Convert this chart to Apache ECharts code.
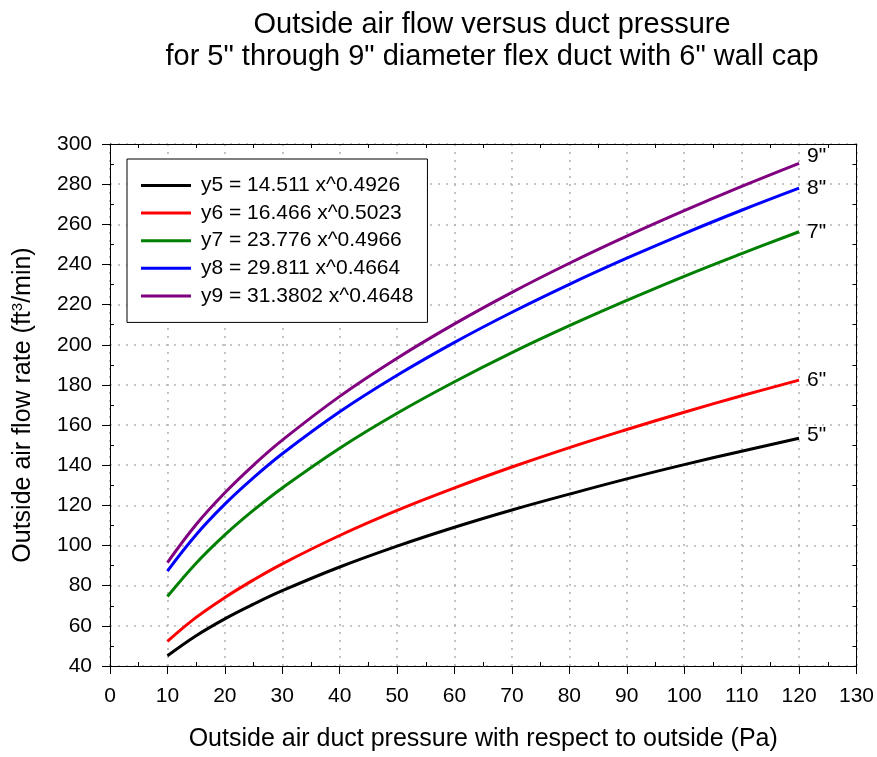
<!DOCTYPE html>
<html><head><meta charset="utf-8">
<script src="https://cdn.jsdelivr.net/npm/echarts@6/dist/echarts.min.js"></script>
<style>html,body{margin:0;padding:0;background:#fff}#c{width:877px;height:757px}</style>
</head><body><div id="c"></div>
<script>
const xs = [10, 15, 20, 25, 30, 40, 50, 60, 70, 80, 90, 100, 110, 120];
const y5 = [45.1, 55.1, 63.5, 70.8, 77.5, 89.3, 99.7, 109.1, 117.7, 125.6, 133.2, 140.3, 147.0, 153.4];
const y6 = [52.3, 64.2, 74.1, 82.9, 90.9, 105.0, 117.5, 128.7, 139.1, 148.8, 157.8, 166.4, 174.6, 182.4];
const y7 = [74.6, 91.2, 105.3, 117.6, 128.7, 148.5, 165.9, 181.6, 196.1, 209.5, 222.1, 234.1, 245.4, 256.3];
const y8 = [87.3, 105.4, 120.6, 133.8, 145.7, 166.6, 184.8, 201.2, 216.2, 230.1, 243.1, 255.4, 267.0, 278.0];
const y9 = [91.5, 110.5, 126.3, 140.1, 152.5, 174.3, 193.3, 210.4, 226.1, 240.6, 254.1, 266.8, 278.9, 290.4];
const seriesNames = ['y5 = 14.511 x^0.4926', 'y6 = 16.466 x^0.5023', 'y7 = 23.776 x^0.4966', 'y8 = 29.811 x^0.4664', 'y9 = 31.3802 x^0.4648'];
const endLabels = ['5"', '6"', '7"', '8"', '9"'];
const colors = ['#000000', '#ff0000', '#008000', '#0000ff', '#800080'];
const allY = [y5, y6, y7, y8, y9];
const endLabelDy = [-3, 0, 0, 0, -7];

const FONT = '"Liberation Sans", Arial, sans-serif';
const chart = echarts.init(document.getElementById('c'));
const dotted = {show: true, lineStyle: {color: '#b4b4b4', type: [2, 6], width: 1.6}};
const baseX = {type: 'value', min: 0, max: 130, interval: 10};
const baseY = {type: 'value', min: 40, max: 300, interval: 20};
const blackLine = {show: true, onZero: false, lineStyle: {color: '#000', width: 1}};
const minorOnly = {
  axisTick: {show: false, inside: true},
  minorTick: {show: true, splitNumber: 2, length: 4, lineStyle: {color: '#000'}},
  axisLabel: {show: false},
  splitLine: {show: false}
};

chart.setOption({
  animation: false,
  backgroundColor: '#fff',
  title: {
    text: 'Outside air flow versus duct pressure\nfor 5" through 9" diameter flex duct with 6" wall cap',
    left: 487, top: 4, textAlign: 'center',
    textStyle: {fontFamily: FONT, fontSize: 29, fontWeight: 'normal', color: '#000', lineHeight: 32}
  },
  legend: {
    orient: 'vertical', left: 127, top: 159,
    padding: [16, 14, 16, 14],
    itemWidth: 50, itemHeight: 3, itemGap: 6.6,
    icon: 'rect',
    borderColor: '#000', borderWidth: 1, backgroundColor: '#fff',
    textStyle: {fontFamily: FONT, fontSize: 21, lineHeight: 20, color: '#000', padding: [0, 0, 0, 5]},
    data: seriesNames
  },
  grid: {left: 110, right: 16, top: 144, bottom: 88},
  xAxis: [
    Object.assign({}, baseX, {
      position: 'bottom',
      name: 'Outside air duct pressure with respect to outside (Pa)',
      nameLocation: 'middle', nameGap: 61,
      nameTextStyle: {fontFamily: FONT, fontSize: 25, color: '#000'},
      axisLine: blackLine,
      axisTick: {show: true, length: 8, lineStyle: {color: '#000'}},
      minorTick: {show: false},
      axisLabel: {fontFamily: FONT, fontSize: 21, color: '#000', margin: 20},
      splitLine: dotted
    }),
    Object.assign({}, baseX, {position: 'bottom', axisLine: {show: false}}, minorOnly),
    Object.assign({}, baseX, {position: 'top', axisLine: blackLine}, minorOnly)
  ],
  yAxis: [
    Object.assign({}, baseY, {
      position: 'left',
      name: '{a|Outside air flow rate (ft}{s|3}{a|/min)}',
      nameLocation: 'middle', nameGap: 73, nameRotate: 90,
      nameTextStyle: {rich: {
        a: {fontFamily: FONT, fontSize: 25, color: '#000'},
        s: {fontFamily: FONT, fontSize: 15, color: '#000', verticalAlign: 'top', padding: [0, 0, 12, 0]}
      }},
      axisLine: blackLine,
      axisTick: {show: true, length: 8, lineStyle: {color: '#000'}},
      minorTick: {show: false},
      axisLabel: {fontFamily: FONT, fontSize: 21, color: '#000', margin: 18},
      splitLine: dotted
    }),
    Object.assign({}, baseY, {position: 'left', axisLine: {show: false}}, minorOnly),
    Object.assign({}, baseY, {position: 'right', axisLine: blackLine}, minorOnly)
  ],
  series: allY.map((ys, i) => ({
    name: seriesNames[i],
    type: 'line',
    xAxisIndex: 0, yAxisIndex: 0,
    data: xs.map((x, j) => [x, ys[j]]),
    smooth: 0.4,
    showSymbol: false,
    color: colors[i],
    lineStyle: {width: 3, color: colors[i]},
    endLabel: {show: true, formatter: endLabels[i], fontFamily: FONT, fontSize: 21, color: '#000', distance: 8, offset: [0, endLabelDy[i]]}
  }))
});
</script>
</body></html>
